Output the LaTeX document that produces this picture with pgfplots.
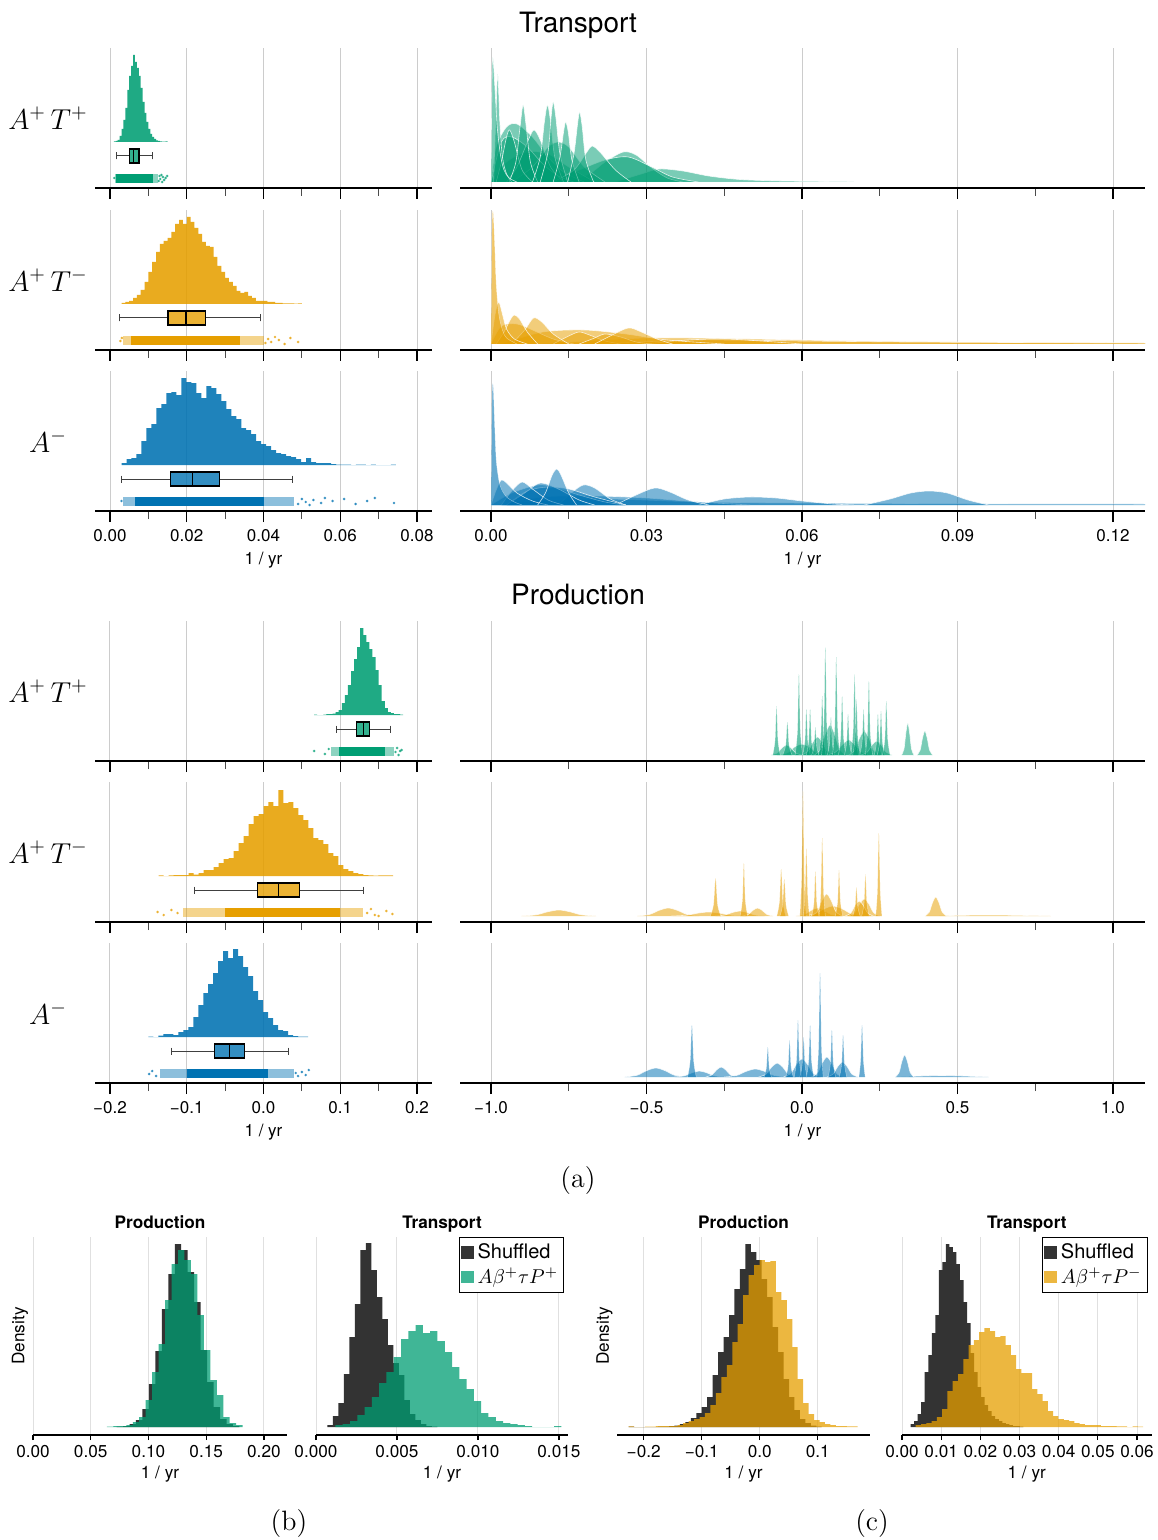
\documentclass[border=0pt]{standalone}
\usepackage{pgfplots}
\pgfplotsset{compat=1.18}
\usepgfplotslibrary{statistics}
\usepackage{fontspec}
\setsansfont{TeX Gyre Heros}
\definecolor{cg}{RGB}{0,158,115}
\definecolor{co}{RGB}{230,159,0}
\definecolor{cb}{RGB}{0,114,178}
\definecolor{cd}{RGB}{51,51,51}
\pgfplotsset{
 base/.style={scale only axis, height=70pt, axis x line=bottom, axis y line=none,
   axis line style={-, black, line width=0.6pt}, scaled ticks=false,
   tick align=outside, major tick length=5.5pt, minor tick length=4pt,
   major tick style={black, line width=0.6pt}, minor tick style={black!70, line width=0.45pt},
   xmajorgrids, major grid style={black!20, line width=0.5pt},
   xticklabels={}, tick label style={font=\sffamily\fontsize{8.5}{10}\selectfont},
   xlabel style={font=\sffamily\fontsize{8.5}{10}\selectfont, yshift=1.5pt},
   clip mode=individual, anchor=south west},
 L/.style={base, width=168.5pt, ymin=-46, ymax=94},
 R/.style={base, width=342.5pt, ymin=-6, ymax=134},
 LT/.style={L, xmin=-0.003909, xmax=0.083909, xtick={0,0.02,0.04,0.06,0.08}, minor xtick={0.01,0.03,0.05,0.07}},
 RT/.style={R, xmin=-0.00598, xmax=0.12617, xtick={0,0.03,0.06,0.09,0.12}, minor xtick={0.015,0.045,0.075,0.105}},
 LP/.style={L, xmin=-0.21954, xmax=0.21954, xtick={-0.2,-0.1,0,0.1,0.2}, minor xtick={-0.15,-0.05,0.05,0.15}},
 RP/.style={R, xmin=-1.0997, xmax=1.1029, xtick={-1,-0.5,0,0.5,1}, minor xtick={-0.75,-0.25,0.25,0.75}},
 hist/.style={ybar interval, fill=#1, fill opacity=0.88, draw=none},
 dens/.style={smooth, tension=0.5, fill=#1, fill opacity=0.52, draw=white, draw opacity=0.8, line width=0.3pt},
 spk/.style={smooth, tension=0.5, fill=#1, fill opacity=0.6, draw=white, draw opacity=0.5, line width=0.2pt},
 bxs/.style={boxplot/draw direction=x, fill=#1, fill opacity=0.8, draw=black, line width=0.55pt},
 rugc/.style={fill=#1, draw=none},
 rugh/.style={fill=#1, fill opacity=0.45, draw=none},
 rugd/.style={only marks, mark=*, mark size=0.45pt, color=#1, opacity=0.6},
 B/.style={scale only axis, height=99pt, ymin=-8, ymax=190, axis x line=bottom, axis y line=none,
   axis line style={-, black, line width=0.6pt}, scaled ticks=false, tick align=outside, major tick length=2.5pt,
   major tick style={black, line width=0.6pt}, xmajorgrids, major grid style={black!12, line width=0.5pt},
   tick label style={font=\sffamily\fontsize{8.6}{10}\selectfont}, xticklabel style={yshift=1pt}, xlabel={1 / yr},
   xlabel style={font=\sffamily\fontsize{8.6}{10}\selectfont, yshift=2.5pt},
   title style={font=\sffamily\bfseries\fontsize{8.6}{10}\selectfont, at={(0.5,1)}, anchor=base, yshift=-1.5pt},
   clip mode=individual, anchor=south west,
   legend style={at={(0.985,1)}, anchor=north east, draw=black, line width=0.5pt,
     font=\sffamily\fontsize{10}{11}\selectfont, inner xsep=0.8pt, inner ysep=1pt, row sep=-1pt},
   legend cell align=left},
 bhd/.style={ybar interval, fill=#1, draw=none, legend image code/.code={\fill[#1] (0pt,-3.2pt) rectangle (6.4pt,3.2pt);}},
 bhc/.style={ybar interval, fill=#1, fill opacity=0.75, draw=none, legend image code/.code={\fill[#1, fill opacity=0.75] (0pt,-3.2pt) rectangle (6.4pt,3.2pt);}},
 boxplot/every whisker/.style={black!75, line width=0.5pt},
}
\begin{document}
\begin{tikzpicture}
\useasboundingbox (0,0) rectangle (578.5pt,-770pt);
\node[font=\sffamily\fontsize{14}{16}\selectfont] at (289pt,-12.5pt) {Transport};
\node[font=\sffamily\fontsize{14}{16}\selectfont] at (289pt,-297pt) {Production};
\node[font=\fontsize{14}{16}\selectfont] at (24pt,-59pt) {$A^+\,T^+$};
\node[font=\fontsize{14}{16}\selectfont] at (24pt,-140pt) {$A^+\,T^-$};
\node[font=\fontsize{14}{16}\selectfont] at (24pt,-220.5pt) {$A^-$};
\node[font=\fontsize{14}{16}\selectfont] at (24pt,-345.5pt) {$A^+\,T^+$};
\node[font=\fontsize{14}{16}\selectfont] at (24pt,-426pt) {$A^+\,T^-$};
\node[font=\fontsize{14}{16}\selectfont] at (24pt,-506.5pt) {$A^-$};
\node[font=\fontsize{14}{16}\selectfont] at (289pt,-590.5pt) {(a)};
\node[font=\fontsize{14}{16}\selectfont] at (144.5pt,-761.5pt) {(b)};
\node[font=\fontsize{14}{16}\selectfont] at (436pt,-761.5pt) {(c)};

%%%%%%%%%%%% TRANSPORT LEFT
\begin{axis}[LT, at={(47.5pt,-94pt)}]
\addplot[hist=cg] coordinates {(0.0010,0.5)(0.0015,1)(0.0020,2)(0.0025,6)(0.0030,13)(0.0035,22)(0.0040,34)(0.0045,52)(0.0050,66)(0.0055,76)(0.0060,87)(0.0065,80)(0.0070,74)(0.0075,66)(0.0080,54)(0.0085,40)(0.0090,29)(0.0095,20)(0.0100,13)(0.0105,8)(0.0110,5)(0.0115,3)(0.0120,1.5)(0.0125,1)(0.0130,0.5)(0.0135,0.3)(0.0140,0.3)(0.0145,0.5)(0.0150,0)};
\addplot[bxs=cg, boxplot prepared={lower whisker=0.00157, lower quartile=0.00504, median=0.00608, upper quartile=0.00756, upper whisker=0.01112, draw position=-14, box extend=14, whisker extend=7}] coordinates {};
\addplot[rugh=cg] coordinates {(0.0012,-41)(0.0125,-41)(0.0125,-32)(0.0012,-32)};
\addplot[rugc=cg] coordinates {(0.0015,-41)(0.0112,-41)(0.0112,-32)(0.0015,-32)};
\addplot[rugd=cg] coordinates {(0.0011,-36)(0.0127,-39)(0.0129,-34)(0.0131,-37)(0.0134,-33)(0.0136,-40)(0.0138,-35)(0.0141,-38)(0.0145,-36)(0.0149,-34)};
\end{axis}
\begin{axis}[LT, at={(47.5pt,-175pt)}]
\addplot[hist=co] coordinates {(0.003,1)(0.004,2)(0.005,3)(0.006,6)(0.007,9)(0.008,14)(0.009,22)(0.010,32)(0.011,42)(0.012,52)(0.013,60)(0.014,63)(0.015,66)(0.016,72)(0.017,80)(0.018,84)(0.019,80)(0.020,87)(0.021,82)(0.022,76)(0.023,70)(0.024,62)(0.025,58)(0.026,57)(0.027,47)(0.028,38)(0.029,32)(0.030,26)(0.031,22)(0.032,18)(0.033,13)(0.034,11)(0.035,12)(0.036,8)(0.037,6)(0.038,3)(0.039,3)(0.040,3)(0.041,2)(0.042,2)(0.043,1)(0.044,1)(0.045,0.5)(0.046,0.5)(0.047,0.5)(0.048,0.3)(0.049,0.5)(0.050,0)};
\addplot[bxs=co, boxplot prepared={lower whisker=0.0026, lower quartile=0.0151, median=0.0198, upper quartile=0.0248, upper whisker=0.0391, draw position=-14, box extend=14, whisker extend=7}] coordinates {};
\addplot[rugh=co] coordinates {(0.0035,-41)(0.040,-41)(0.040,-32)(0.0035,-32)};
\addplot[rugc=co] coordinates {(0.0055,-41)(0.034,-41)(0.034,-32)(0.0055,-32)};
\addplot[rugd=co] coordinates {(0.0027,-37)(0.0031,-34)(0.0405,-39)(0.0412,-35)(0.042,-38)(0.043,-33)(0.044,-36)(0.0455,-40)(0.047,-34)(0.049,-38)};
\end{axis}
\begin{axis}[LT, at={(47.5pt,-255.5pt)}, xticklabels={0.00,0.02,0.04,0.06,0.08}, xlabel={1 / yr}]
\addplot[hist=cb] coordinates {(0.0030,2)(0.0043,6)(0.0056,7)(0.0069,11)(0.0082,24)(0.0095,37)(0.0108,41)(0.0121,57)(0.0134,61)(0.0147,72)(0.0160,73)(0.0173,70)(0.0186,87)(0.0199,83)(0.0212,82)(0.0225,72)(0.0238,67)(0.0251,79)(0.0264,77)(0.0277,71)(0.0290,64)(0.0303,56)(0.0316,49)(0.0329,46)(0.0342,37)(0.0355,35)(0.0368,31)(0.0381,24)(0.0394,21)(0.0407,19)(0.0420,15)(0.0433,12)(0.0446,11)(0.0459,9)(0.0472,8)(0.0485,6)(0.0498,3)(0.0511,7)(0.0524,3)(0.0537,2)(0.0550,2)(0.0563,2)(0.0576,1)(0.0589,0.5)(0.0602,0.5)(0.0615,0.5)(0.0628,0)(0.0641,0.4)(0.0654,0.4)(0.0667,0)(0.0680,0.4)(0.0693,0)(0.0706,0)(0.0719,0)(0.0732,0.5)(0.0745,0)};
\addplot[bxs=cb, boxplot prepared={lower whisker=0.0029, lower quartile=0.0158, median=0.0216, upper quartile=0.0285, upper whisker=0.0476, draw position=-14, box extend=14, whisker extend=7}] coordinates {};
\addplot[rugh=cb] coordinates {(0.0035,-41)(0.048,-41)(0.048,-32)(0.0035,-32)};
\addplot[rugc=cb] coordinates {(0.0065,-41)(0.040,-41)(0.040,-32)(0.0065,-32)};
\addplot[rugd=cb] coordinates {(0.003,-36)(0.049,-39)(0.050,-34)(0.051,-37)(0.052,-40)(0.053,-35)(0.055,-38)(0.056,-33)(0.058,-36)(0.061,-34)(0.064,-39)(0.067,-36)(0.069,-33)(0.074,-38)};
\end{axis}

%%%%%%%%%%%% TRANSPORT RIGHT
\begin{axis}[RT, at={(230pt,-94pt)}]
\addplot[dens=cg] coordinates {(0.024,0)(0.029,8)(0.0325,13)(0.037,11)(0.042,6)(0.048,2.5)(0.056,1)(0.068,0.3)(0.07,0)};
\addplot[dens=cg] coordinates {(0.015,0)(0.019,8)(0.022,20)(0.0255,30)(0.028,27)(0.031,14)(0.034,4)(0.037,0)};
\addplot[dens=cg] coordinates {(0.01,0)(0.016,10)(0.022,22)(0.0265,25)(0.031,15)(0.035,5)(0.04,0)};
\addplot[dens=cg] coordinates {(0,0)(0.003,20)(0.007,30)(0.011,28)(0.015,15)(0.02,0)};
\addplot[dens=cg] coordinates {(0,0)(0.001,35)(0.003,55)(0.005,58)(0.008,45)(0.011,25)(0.014,10)(0.018,0)};
\addplot[dens=cg] coordinates {(0.004,0)(0.008,15)(0.011,35)(0.013,40)(0.015,35)(0.018,15)(0.022,0)};
\addplot[dens=cg] coordinates {(0,0)(0.002,40)(0.004,45)(0.007,35)(0.01,18)(0.013,6)(0.016,0)};
\addplot[dens=cg] coordinates {(0.012,0)(0.016,12)(0.0185,30)(0.0195,36)(0.021,30)(0.024,12)(0.027,0)};
\addplot[dens=cg] coordinates {(0.003,0)(0.005,15)(0.0072,42)(0.0083,52)(0.0095,42)(0.0115,15)(0.014,0)};
\addplot[dens=cg] coordinates {(0.001,0)(0.002,20)(0.003,45)(0.0036,52)(0.0045,40)(0.006,12)(0.008,0)};
\addplot[dens=cg] coordinates {(0.0035,0)(0.0048,20)(0.0056,55)(0.0062,77)(0.0068,55)(0.0076,20)(0.009,0)};
\addplot[dens=cg] coordinates {(0.008,0)(0.0095,25)(0.0103,60)(0.0109,77)(0.0115,60)(0.0123,25)(0.014,0)};
\addplot[dens=cg] coordinates {(0.0095,0)(0.011,30)(0.0116,65)(0.012,80)(0.0125,65)(0.0133,28)(0.0148,0)};
\addplot[dens=cg] coordinates {(0.012,0)(0.0133,25)(0.014,50)(0.0144,60)(0.0149,50)(0.0156,22)(0.017,0)};
\addplot[dens=cg] coordinates {(0.0148,0)(0.016,28)(0.0167,58)(0.0171,70)(0.0176,55)(0.0183,22)(0.0198,0)};
\addplot[dens=cg] coordinates {(0.0005,0)(0.0009,60)(0.0013,108)(0.0017,60)(0.0022,25)(0.003,8)(0.004,0)};
\addplot[dens=cg] coordinates {(0,0)(0.0002,110)(0.0004,123)(0.0008,90)(0.0012,55)(0.0018,28)(0.0025,12)(0.0035,4)(0.005,0)};
\end{axis}
\begin{axis}[RT, at={(230pt,-175pt)}]
\addplot[dens=co] coordinates {(0.01,0)(0.03,6)(0.05,5)(0.07,3)(0.09,2)(0.11,1.2)(0.126,0.8)(0.13,0)};
\addplot[dens=co] coordinates {(0.02,0)(0.04,4)(0.06,3)(0.08,2)(0.1,1.5)(0.126,1)(0.13,0)};
\addplot[dens=co] coordinates {(0.03,0)(0.038,4)(0.045,5)(0.052,3)(0.06,0)};
\addplot[dens=co] coordinates {(0.002,0)(0.01,12)(0.018,14)(0.026,10)(0.034,4)(0.045,0)};
\addplot[dens=co] coordinates {(0,0)(0.002,18)(0.005,20)(0.008,14)(0.012,5)(0.016,0)};
\addplot[dens=co] coordinates {(0.012,0)(0.015,8)(0.017,12)(0.019,9)(0.022,3)(0.025,0)};
\addplot[dens=co] coordinates {(0.017,0)(0.02,6)(0.022,10)(0.025,7)(0.028,2)(0.031,0)};
\addplot[dens=co] coordinates {(0.02,0)(0.023,8)(0.0265,16)(0.029,12)(0.032,5)(0.035,0)};
\addplot[dens=co] coordinates {(0.004,0)(0.0065,14)(0.0082,26)(0.0098,22)(0.012,10)(0.015,0)};
\addplot[dens=co] coordinates {(0.001,0)(0.0025,12)(0.0038,25)(0.0045,29)(0.0055,25)(0.007,12)(0.009,0)};
\addplot[dens=co] coordinates {(0,0)(0.0008,30)(0.0015,42)(0.0022,30)(0.003,15)(0.0045,5)(0.007,0)};
\addplot[spk=co] coordinates {(0,0)(0.0002,115)(0.0004,132)(0.0007,100)(0.001,60)(0.0015,30)(0.0022,14)(0.003,6)(0.005,0)};
\end{axis}
\begin{axis}[RT, at={(230pt,-255.5pt)}, xticklabels={0.00,0.03,0.06,0.09,0.12}, xlabel={1 / yr}]
\addplot[dens=cb] coordinates {(0.0,0)(0.02,6)(0.04,3)(0.06,2)(0.08,1.5)(0.1,1.2)(0.126,1)(0.13,0)};
\addplot[dens=cb] coordinates {(0.002,0)(0.01,8)(0.02,9)(0.03,7)(0.04,3)(0.05,0)};
\addplot[dens=cb] coordinates {(0.04,0)(0.045,6)(0.05,8)(0.055,7)(0.06,4)(0.066,1)(0.07,0)};
\addplot[dens=cb] coordinates {(0.072,0)(0.077,6)(0.081,12)(0.0845,14)(0.088,12)(0.092,5)(0.096,0)};
\addplot[dens=cb] coordinates {(0.024,0)(0.028,10)(0.0316,17)(0.0345,13)(0.038,5)(0.042,0)};
\addplot[dens=cb] coordinates {(0.013,0)(0.0155,12)(0.0178,20)(0.02,17)(0.023,6)(0.026,0)};
\addplot[dens=cb] coordinates {(0,0)(0.004,12)(0.009,20)(0.012,18)(0.017,10)(0.022,3)(0.026,0)};
\addplot[dens=cb] coordinates {(0.003,0)(0.007,14)(0.011,18)(0.015,16)(0.02,8)(0.026,0)};
\addplot[dens=cb] coordinates {(0.003,0)(0.0065,12)(0.0095,22)(0.013,16)(0.017,5)(0.02,0)};
\addplot[dens=cb] coordinates {(0.002,0)(0.004,14)(0.006,23)(0.008,16)(0.011,5)(0.014,0)};
\addplot[dens=cb] coordinates {(0,0)(0.001,15)(0.002,25)(0.003,22)(0.005,12)(0.008,4)(0.011,0)};
\addplot[dens=cb] coordinates {(0.009,0)(0.0105,12)(0.0118,30)(0.0127,36)(0.0135,30)(0.015,12)(0.0165,0)};
\addplot[spk=cb] coordinates {(0,0)(0.0002,105)(0.0004,120)(0.0007,80)(0.001,45)(0.0015,25)(0.002,16)(0.003,8)(0.0045,3)(0.006,0)};
\end{axis}

%%%%%%%%%%%% PRODUCTION LEFT
\begin{axis}[LP, at={(47.5pt,-380.5pt)}]
\addplot[hist=cg] coordinates {(0.066,0.5)(0.070,0)(0.074,0)(0.078,0.5)(0.082,1)(0.086,1)(0.090,1.5)(0.094,3)(0.098,5)(0.102,12)(0.106,20)(0.110,30)(0.114,44)(0.118,56)(0.122,68)(0.126,87)(0.130,80)(0.134,73)(0.138,66)(0.142,58)(0.146,45)(0.150,30)(0.154,14)(0.158,7)(0.162,3)(0.166,2)(0.170,1)(0.174,1)(0.178,0.5)(0.182,0)};
\addplot[bxs=cg, boxplot prepared={lower whisker=0.0947, lower quartile=0.1213, median=0.1299, upper quartile=0.1386, upper whisker=0.1655, draw position=-14, box extend=14, whisker extend=7}] coordinates {};
\addplot[rugh=cg] coordinates {(0.088,-41)(0.17,-41)(0.17,-32)(0.088,-32)};
\addplot[rugc=cg] coordinates {(0.098,-41)(0.158,-41)(0.158,-32)(0.098,-32)};
\addplot[rugd=cg] coordinates {(0.066,-36)(0.080,-39)(0.085,-34)(0.172,-37)(0.174,-33)(0.176,-40)(0.178,-36)(0.18,-35)};
\end{axis}
\begin{axis}[LP, at={(47.5pt,-461pt)}]
\addplot[hist=co] coordinates {(-0.1365,0.7)(-0.1300,0)(-0.1235,0.6)(-0.1170,0.8)(-0.1105,1)(-0.1040,1)(-0.0975,3)(-0.0910,1.5)(-0.0845,3)(-0.0780,6)(-0.0715,6)(-0.0650,9)(-0.0585,13)(-0.0520,17)(-0.0455,18)(-0.0390,25)(-0.0325,33)(-0.0260,40)(-0.0195,52)(-0.0130,60)(-0.0065,62)(0.0000,70)(0.0065,74)(0.0130,70)(0.0195,86)(0.0260,73)(0.0325,74)(0.0390,68)(0.0455,61)(0.0520,56)(0.0585,48)(0.0650,38)(0.0715,36)(0.0780,32)(0.0845,23)(0.0910,20)(0.0975,11)(0.1040,7)(0.1105,5)(0.1170,3)(0.1235,2)(0.1300,1)(0.1365,0.7)(0.1430,0.5)(0.1495,0.6)(0.1560,0.6)(0.1625,0.6)(0.1690,0)};
\addplot[bxs=co, boxplot prepared={lower whisker=-0.0895, lower quartile=-0.0082, median=0.0200, upper quartile=0.0469, upper whisker=0.1299, draw position=-14, box extend=14, whisker extend=7}] coordinates {};
\addplot[rugh=co] coordinates {(-0.105,-41)(0.13,-41)(0.13,-32)(-0.105,-32)};
\addplot[rugc=co] coordinates {(-0.05,-41)(0.10,-41)(0.10,-32)(-0.05,-32)};
\addplot[rugd=co] coordinates {(-0.138,-36)(-0.13,-39)(-0.12,-34)(-0.112,-37)(0.135,-37)(0.14,-33)(0.145,-39)(0.15,-40)(0.16,-35)(0.168,-38)};
\end{axis}
\begin{axis}[LP, at={(47.5pt,-541.5pt)}, xticklabels={−0.2,−0.1,0.0,0.1,0.2}, xlabel={1 / yr}]
\addplot[hist=cb] coordinates {(-0.1500,0.5)(-0.1435,0)(-0.1370,1.5)(-0.1305,3)(-0.1240,3)(-0.1175,2)(-0.1110,5)(-0.1045,7)(-0.0980,10)(-0.0915,20)(-0.0850,32)(-0.0785,44)(-0.0720,53)(-0.0655,64)(-0.0590,76)(-0.0525,86)(-0.0460,79)(-0.0395,88)(-0.0330,81)(-0.0265,70)(-0.0200,61)(-0.0135,46)(-0.0070,37)(-0.0005,25)(0.0060,19)(0.0125,12)(0.0190,7)(0.0255,6)(0.0320,2)(0.0385,1)(0.0450,0.5)(0.0515,0.5)(0.0580,0)};
\addplot[bxs=cb, boxplot prepared={lower whisker=-0.1199, lower quartile=-0.0634, median=-0.0439, upper quartile=-0.0247, upper whisker=0.0321, draw position=-14, box extend=14, whisker extend=7}] coordinates {};
\addplot[rugh=cb] coordinates {(-0.135,-41)(0.04,-41)(0.04,-32)(-0.135,-32)};
\addplot[rugc=cb] coordinates {(-0.1,-41)(0.006,-41)(0.006,-32)(-0.1,-32)};
\addplot[rugd=cb] coordinates {(-0.149,-37)(-0.145,-34)(-0.14,-39)(0.042,-36)(0.045,-39)(0.05,-35)(0.055,-38)(0.059,-33)};
\end{axis}

%%%%%%%%%%%% PRODUCTION RIGHT
\begin{axis}[RP, at={(230pt,-380.5pt)}]
\addplot[dens=cg] coordinates {(-0.08,0)(-0.048,2)(-0.024,8)(0,11)(0.024,8)(0.048,2)(0.08,0)};
\addplot[dens=cg] coordinates {(-0.1,0)(-0.08,2)(-0.065,7)(-0.05,10)(-0.035,7)(-0.02,2)(0,0)};
\addplot[dens=cg] coordinates {(0,0)(0.02,4)(0.035,13)(0.05,18)(0.065,13)(0.08,4)(0.1,0)};
\addplot[dens=cg] coordinates {(0.04,0)(0.06,6)(0.075,21)(0.09,30)(0.105,21)(0.12,6)(0.14,0)};
\addplot[dens=cg] coordinates {(0.08,0)(0.108,3)(0.129,10)(0.15,15)(0.171,10)(0.192,3)(0.22,0)};
\addplot[dens=cg] coordinates {(0.15,0)(0.17,5)(0.185,17)(0.2,24)(0.215,17)(0.23,5)(0.25,0)};
\addplot[dens=cg] coordinates {(0.19,0)(0.21,3)(0.225,10)(0.24,14)(0.255,10)(0.27,3)(0.29,0)};
\addplot[dens=cg] coordinates {(0.32,0)(0.328,6)(0.334,22)(0.34,32)(0.346,22)(0.352,6)(0.36,0)};
\addplot[dens=cg] coordinates {(0.37,0)(0.38,5)(0.3875,17)(0.395,24)(0.4025,17)(0.41,5)(0.42,0)};
\addplot[spk=cg] coordinates {(-0.094,0)(-0.0865,14.7)(-0.082,49)(-0.0775,14.7)(-0.07,0)};
\addplot[spk=cg] coordinates {(-0.062,0)(-0.0523,10)(-0.047,33)(-0.0418,10)(-0.032,0)};
\addplot[spk=cg] coordinates {(-0.022,0)(-0.0145,24)(-0.01,81)(-0.0055,24)(0.002,0)};
\addplot[spk=cg] coordinates {(0.002,0)(0.0095,14)(0.014,46)(0.0185,14)(0.026,0)};
\addplot[spk=cg] coordinates {(0.014,0)(0.0215,14)(0.026,46)(0.0305,14)(0.038,0)};
\addplot[spk=cg] coordinates {(0.031,0)(0.0385,8)(0.043,28)(0.0475,8)(0.055,0)};
\addplot[spk=cg] coordinates {(0.053,0)(0.0605,18)(0.065,59)(0.0695,18)(0.077,0)};
\addplot[spk=cg] coordinates {(0.063,0)(0.0705,32)(0.075,108)(0.0795,32)(0.087,0)};
\addplot[spk=cg] coordinates {(0.081,0)(0.0885,11)(0.093,38)(0.0975,11)(0.105,0)};
\addplot[spk=cg] coordinates {(0.098,0)(0.1055,29)(0.11,98)(0.1145,29)(0.122,0)};
\addplot[spk=cg] coordinates {(0.117,0)(0.1245,18)(0.129,59)(0.1335,18)(0.141,0)};
\addplot[spk=cg] coordinates {(0.136,0)(0.1435,12)(0.148,41)(0.1525,12)(0.16,0)};
\addplot[spk=cg] coordinates {(0.157,0)(0.1645,24)(0.169,81)(0.1735,24)(0.181,0)};
\addplot[spk=cg] coordinates {(0.163,0)(0.1705,17)(0.175,56)(0.1795,17)(0.187,0)};
\addplot[spk=cg] coordinates {(0.186,0)(0.1935,14)(0.198,46)(0.2025,14)(0.21,0)};
\addplot[spk=cg] coordinates {(0.203,0)(0.2105,22)(0.215,74)(0.2195,22)(0.227,0)};
\addplot[spk=cg] coordinates {(0.232,0)(0.2395,12)(0.244,41)(0.2485,12)(0.256,0)};
\addplot[spk=cg] coordinates {(0.242,0)(0.2495,13)(0.254,44)(0.2585,13)(0.266,0)};
\addplot[spk=cg] coordinates {(0.259,0)(0.2665,16)(0.271,54)(0.2755,16)(0.283,0)};
\end{axis}
\begin{axis}[RP, at={(230pt,-461pt)}]
\addplot[dens=co] coordinates {(0.4,0)(0.6,1)(0.8,0)};
\addplot[dens=co] coordinates {(-0.902,0)(-0.854,1.2)(-0.818,4.2)(-0.782,6)(-0.746,4.2)(-0.71,1.2)(-0.662,0)};
\addplot[dens=co] coordinates {(-0.53,0)(-0.49,1.6)(-0.46,5.6)(-0.43,8)(-0.4,5.6)(-0.37,1.6)(-0.33,0)};
\addplot[dens=co] coordinates {(-0.42,0)(-0.372,0.8)(-0.336,2.8)(-0.3,4)(-0.264,2.8)(-0.228,0.8)(-0.18,0)};
\addplot[dens=co] coordinates {(-0.28,0)(-0.248,1)(-0.224,3.5)(-0.2,5)(-0.176,3.5)(-0.152,1)(-0.12,0)};
\addplot[dens=co] coordinates {(-0.193,0)(-0.173,1.6)(-0.158,5.6)(-0.143,8)(-0.128,5.6)(-0.113,1.6)(-0.093,0)};
\addplot[dens=co] coordinates {(-0.02,0)(0.008,1.6)(0.029,5.6)(0.05,8)(0.071,5.6)(0.092,1.6)(0.12,0)};
\addplot[dens=co] coordinates {(0.0,0)(0.04,2)(0.07,7)(0.1,10)(0.13,7)(0.16,2)(0.2,0)};
\addplot[dens=co] coordinates {(0.029,0)(0.049,4.4)(0.064,15.4)(0.079,22)(0.094,15.4)(0.109,4.4)(0.129,0)};
\addplot[dens=co] coordinates {(0.15,0)(0.17,3.4)(0.185,12)(0.2,17)(0.215,12)(0.23,3.4)(0.25,0)};
\addplot[dens=co] coordinates {(0.139,0)(0.157,3)(0.1705,10.5)(0.184,15)(0.1975,10.5)(0.211,3)(0.229,0)};
\addplot[dens=co] coordinates {(0.395,0)(0.409,3.8)(0.4195,13.3)(0.43,19)(0.4405,13.3)(0.451,3.8)(0.465,0)};
\addplot[spk=co] coordinates {(-0.295,0)(-0.2845,11)(-0.278,38)(-0.2715,11)(-0.261,0)};
\addplot[spk=co] coordinates {(-0.199,0)(-0.1915,16)(-0.187,53)(-0.1825,16)(-0.175,0)};
\addplot[spk=co] coordinates {(-0.081,0)(-0.0725,14)(-0.067,47)(-0.0615,14)(-0.053,0)};
\addplot[spk=co] coordinates {(-0.071,0)(-0.0625,11)(-0.057,37)(-0.0515,11)(-0.043,0)};
\addplot[spk=co] coordinates {(-0.007,0)(-0.0015,37)(0.003,125)(0.0075,37)(0.013,0)};
\addplot[spk=co] coordinates {(0.004,0)(0.0095,20)(0.014,68)(0.0185,20)(0.024,0)};
\addplot[spk=co] coordinates {(0.031,0)(0.0385,13)(0.043,45)(0.0475,13)(0.055,0)};
\addplot[spk=co] coordinates {(0.055,0)(0.0605,23)(0.065,78)(0.0695,23)(0.075,0)};
\addplot[spk=co] coordinates {(0.107,0)(0.1145,14)(0.119,46)(0.1235,14)(0.131,0)};
\addplot[spk=co] coordinates {(0.163,0)(0.1705,9)(0.175,29)(0.1795,9)(0.187,0)};
\addplot[spk=co] coordinates {(0.192,0)(0.1995,13)(0.204,42)(0.2085,13)(0.216,0)};
\addplot[spk=co] coordinates {(0.237,0)(0.2425,25)(0.247,83)(0.2515,25)(0.257,0)};
\end{axis}
\begin{axis}[RP, at={(230pt,-541.5pt)}, xticklabels={−1.0,−0.5,0.0,0.5,1.0}, xlabel={1 / yr}]
\addplot[dens=cb] coordinates {(0.3,0)(0.45,1.5)(0.6,0)};
\addplot[dens=cb] coordinates {(-0.57,0)(-0.53,1.8)(-0.5,6.3)(-0.47,9)(-0.44,6.3)(-0.41,1.8)(-0.37,0)};
\addplot[dens=cb] coordinates {(-0.41,0)(-0.378,1.2)(-0.354,4.2)(-0.33,6)(-0.306,4.2)(-0.282,1.2)(-0.25,0)};
\addplot[dens=cb] coordinates {(-0.31,0)(-0.29,2)(-0.275,7)(-0.26,10)(-0.245,7)(-0.23,2)(-0.21,0)};
\addplot[dens=cb] coordinates {(-0.25,0)(-0.21,1.6)(-0.18,5.6)(-0.15,8)(-0.12,5.6)(-0.09,1.6)(-0.05,0)};
\addplot[dens=cb] coordinates {(-0.14,0)(-0.116,2.8)(-0.098,9.8)(-0.08,14)(-0.062,9.8)(-0.044,2.8)(-0.02,0)};
\addplot[dens=cb] coordinates {(-0.06,0)(-0.036,3.6)(-0.018,12.6)(0,18)(0.018,12.6)(0.036,3.6)(0.06,0)};
\addplot[dens=cb] coordinates {(0.03,0)(0.05,4)(0.065,14)(0.08,20)(0.095,14)(0.11,4)(0.13,0)};
\addplot[dens=cb] coordinates {(0.08,0)(0.1,3)(0.115,10.5)(0.13,15)(0.145,10.5)(0.16,3)(0.18,0)};
\addplot[dens=cb] coordinates {(0.3,0)(0.312,4.4)(0.321,15.4)(0.33,22)(0.339,15.4)(0.348,4.4)(0.36,0)};
\addplot[spk=cb] coordinates {(-0.368,0)(-0.3595,16)(-0.354,52)(-0.3485,16)(-0.34,0)};
\addplot[spk=cb] coordinates {(-0.122,0)(-0.1145,9)(-0.11,30)(-0.1055,9)(-0.098,0)};
\addplot[spk=cb] coordinates {(-0.052,0)(-0.0445,11)(-0.04,37)(-0.0355,11)(-0.028,0)};
\addplot[spk=cb] coordinates {(-0.025,0)(-0.0175,17)(-0.013,57)(-0.0085,17)(-0.001,0)};
\addplot[spk=cb] coordinates {(-0.007,0)(0.0005,12)(0.005,40)(0.0095,12)(0.017,0)};
\addplot[spk=cb] coordinates {(0.014,0)(0.0215,16)(0.026,52)(0.0305,16)(0.038,0)};
\addplot[spk=cb] coordinates {(0.048,0)(0.0535,31)(0.058,104)(0.0625,31)(0.068,0)};
\addplot[spk=cb] coordinates {(0.084,0)(0.0915,14)(0.096,47)(0.1005,14)(0.108,0)};
\addplot[spk=cb] coordinates {(0.12,0)(0.1275,13)(0.132,42)(0.1365,13)(0.144,0)};
\addplot[spk=cb] coordinates {(0.183,0)(0.1885,16)(0.193,52)(0.1975,16)(0.203,0)};
\end{axis}

%%%%%%%%%%%% BOTTOM (b)
\begin{axis}[B, at={(16.5pt,-717.5pt)}, width=127pt, xmin=0, xmax=0.22, xtick={0,0.05,0.1,0.15,0.2}, xticklabels={0.00,0.05,0.10,0.15,0.20}, title={Production}]
\addplot[bhd=cd] coordinates {(0.0724,0.5)(0.0780,1)(0.0836,3)(0.0892,7)(0.0948,18)(0.1004,43)(0.1060,76)(0.1116,118)(0.1172,153)(0.1228,183)(0.1284,177)(0.1340,155)(0.1396,125)(0.1452,77)(0.1508,45)(0.1564,20)(0.1620,8)(0.1676,3)(0.1732,1)(0.1788,0)};
\addplot[bhc=cg] coordinates {(0.0640,0.5)(0.0696,1)(0.0752,1)(0.0808,2)(0.0864,5)(0.0920,10)(0.0976,27)(0.1032,55)(0.1088,83)(0.1144,127)(0.1200,163)(0.1256,177)(0.1312,167)(0.1368,153)(0.1424,112)(0.1480,77)(0.1536,47)(0.1592,32)(0.1648,10)(0.1704,4)(0.1760,2)(0.1816,0)};
\node[rotate=90, font=\sffamily\fontsize{8.6}{10}\selectfont] at (axis description cs:-0.051,0.5) {Density};
\end{axis}
\begin{axis}[B, at={(158pt,-717.5pt)}, width=126pt, xmin=0, xmax=0.01556, xtick={0,0.005,0.01,0.015}, xticklabels={0.000,0.005,0.010,0.015}, title={Transport}]
\addplot[bhd=cd] coordinates {(0.00070,2)(0.00104,11)(0.00138,24)(0.00172,53)(0.00206,90)(0.00240,123)(0.00274,177)(0.00308,184)(0.00342,157)(0.00376,130)(0.00410,108)(0.00444,82)(0.00478,64)(0.00512,52)(0.00546,27)(0.00580,13)(0.00614,7)(0.00648,3)(0.00682,1)(0.00716,0.5)(0.0075,0)};
\addlegendentry{Shuffled}
\addplot[bhc=cg] coordinates {(0.00120,2)(0.00165,3)(0.00210,6)(0.00255,12)(0.00300,20)(0.00345,30)(0.00390,44)(0.00435,55)(0.00480,70)(0.00525,88)(0.00570,96)(0.00615,102)(0.00660,94)(0.00705,96)(0.00750,86)(0.00795,75)(0.00840,60)(0.00885,48)(0.00930,38)(0.00975,26)(0.01020,14)(0.01065,10)(0.01110,6)(0.01155,4)(0.01200,3)(0.01245,2)(0.01290,1)(0.01335,0)(0.01380,0)(0.01425,0)(0.01470,1)(0.01515,0)};
\addlegendentry{$A\beta^+\tau P^+$}
\end{axis}

%%%%%%%%%%%% BOTTOM (c)
\begin{axis}[B, at={(308.5pt,-717.5pt)}, width=126.5pt, xmin=-0.246, xmax=0.19, xtick={-0.2,-0.1,0,0.1}, xticklabels={−0.2,−0.1,0.0,0.1}, title={Production}]
\addplot[bhd=cd] coordinates {(-0.2260,0.5)(-0.2166,0)(-0.1846,0)(-0.1752,0.5)(-0.1658,0.5)(-0.1564,1)(-0.1470,1.5)(-0.1376,3)(-0.1282,5)(-0.1188,9)(-0.1094,14)(-0.1000,20)(-0.0906,30)(-0.0812,52)(-0.0718,75)(-0.0624,90)(-0.0530,112)(-0.0436,138)(-0.0342,158)(-0.0248,183)(-0.0154,175)(-0.0060,167)(0.0034,148)(0.0128,130)(0.0222,100)(0.0316,75)(0.0410,48)(0.0504,30)(0.0598,17)(0.0692,8)(0.0786,4)(0.0880,1.5)(0.0974,0.5)(0.1068,0)};
\addplot[bhc=co] coordinates {(-0.2260,0.7)(-0.2166,0)(-0.2072,0)(-0.1978,0.5)(-0.1884,0.5)(-0.1790,0.8)(-0.1696,0.8)(-0.1602,1)(-0.1508,1)(-0.1414,2)(-0.1320,4)(-0.1226,6)(-0.1132,8)(-0.1038,10)(-0.0944,14)(-0.0850,22)(-0.0756,34)(-0.0662,50)(-0.0568,62)(-0.0474,85)(-0.0380,103)(-0.0286,132)(-0.0192,152)(-0.0098,162)(-0.0004,167)(0.0090,165)(0.0184,166)(0.0278,135)(0.0372,127)(0.0466,108)(0.0560,80)(0.0654,48)(0.0748,24)(0.0842,13)(0.0936,7)(0.1030,5)(0.1124,3)(0.1218,2)(0.1312,1)(0.1406,1)(0.1500,0.7)(0.1594,0.7)(0.1688,0)};
\node[rotate=90, font=\sffamily\fontsize{8.6}{10}\selectfont] at (axis description cs:-0.05,0.5) {Density};
\end{axis}
\begin{axis}[B, at={(451pt,-717.5pt)}, width=124.75pt, xmin=0, xmax=0.0637, xtick={0,0.01,0.02,0.03,0.04,0.05,0.06}, xticklabels={0.00,0.01,0.02,0.03,0.04,0.05,0.06}, title={Transport}]
\addplot[bhd=cd] coordinates {(0.0022,3)(0.0031,6)(0.0040,13)(0.0049,25)(0.0058,55)(0.0067,72)(0.0076,94)(0.0085,112)(0.0094,157)(0.0103,165)(0.0112,183)(0.0121,180)(0.0130,175)(0.0139,163)(0.0148,147)(0.0157,125)(0.0166,104)(0.0175,74)(0.0184,55)(0.0193,40)(0.0202,30)(0.0211,22)(0.0220,16)(0.0229,11)(0.0238,8)(0.0247,6)(0.0256,4)(0.0265,3)(0.0274,2)(0.0283,1)(0.0292,1)(0.0301,0.5)(0.0310,0)};
\addlegendentry{Shuffled}
\addplot[bhc=co] coordinates {(0.00350,2)(0.00485,3)(0.00620,4)(0.00755,6)(0.00890,10)(0.01025,18)(0.01160,36)(0.01295,46)(0.01430,53)(0.01565,68)(0.01700,82)(0.01835,87)(0.01970,95)(0.02105,99)(0.02240,96)(0.02375,90)(0.02510,91)(0.02645,82)(0.02780,72)(0.02915,58)(0.03050,54)(0.03185,54)(0.03320,38)(0.03455,33)(0.03590,26)(0.03725,16)(0.03860,11)(0.03995,8)(0.04130,7)(0.04265,6)(0.04400,4)(0.04535,3)(0.04670,2)(0.04805,2)(0.04940,2)(0.05075,1)(0.05210,1)(0.05345,1)(0.05480,0.7)(0.05615,0.7)(0.05750,0)(0.05885,0.7)(0.06020,0.5)(0.06155,0)};
\addlegendentry{$A\beta^+\tau P^-$}
\end{axis}
\end{tikzpicture}
\end{document}
